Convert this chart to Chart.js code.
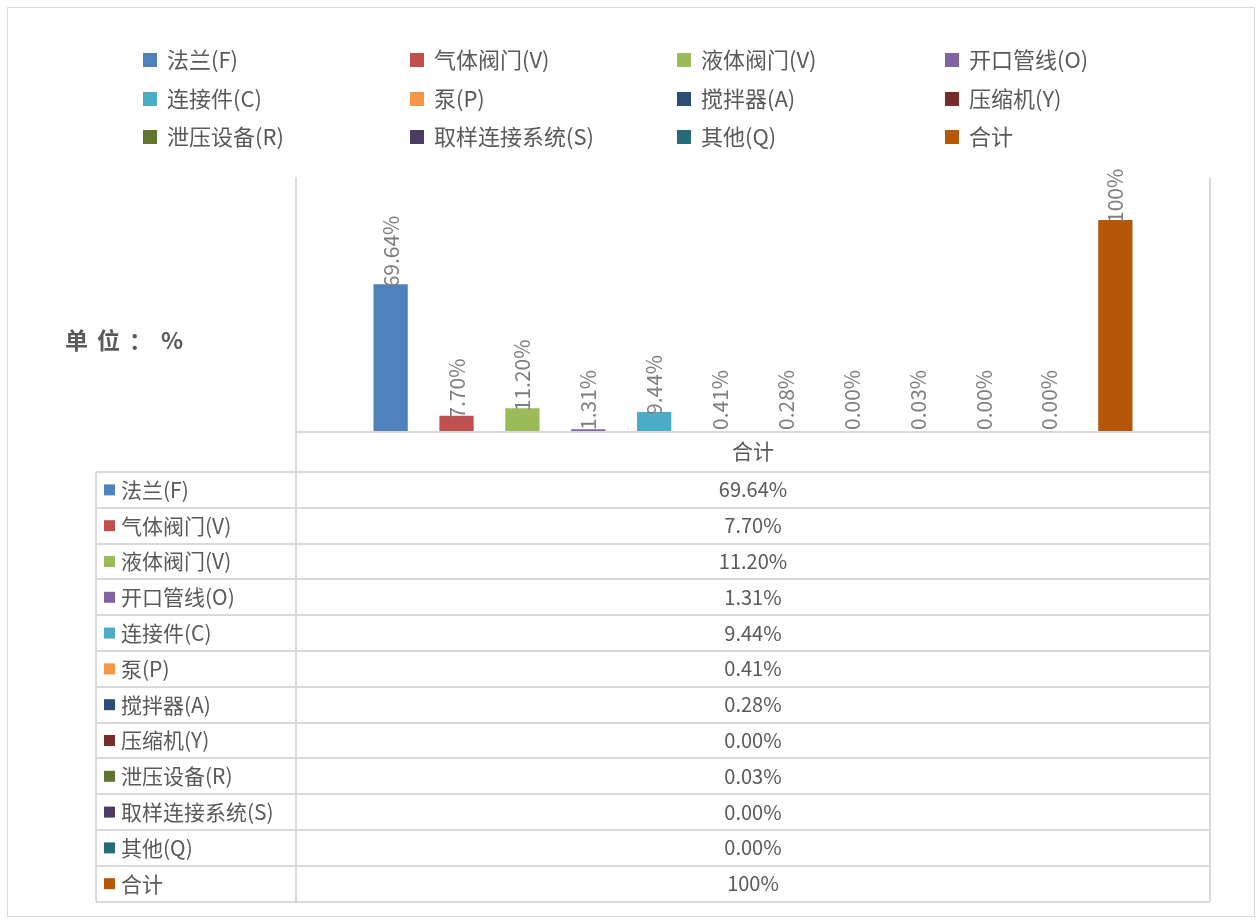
<!DOCTYPE html>
<html>
<head>
<meta charset="utf-8">
<script src="https://cdn.jsdelivr.net/npm/chart.js@4.4.1/dist/chart.umd.min.js"></script>
<style>
  html, body { margin: 0; padding: 0; background: #ffffff; }
  #wrap { position: relative; width: 1258px; height: 921px; }
  canvas { display: block; }
</style>
</head>
<body>
<div id="wrap"><canvas id="c" width="1258" height="921"></canvas></div>
<script>
// ---- data ----
const categories = ['合计'];
const seriesNames = ['法兰(F)', '气体阀门(V)', '液体阀门(V)', '开口管线(O)', '连接件(C)', '泵(P)', '搅拌器(A)', '压缩机(Y)', '泄压设备(R)', '取样连接系统(S)', '其他(Q)', '合计'];
const seriesValues = [69.64, 7.70, 11.20, 1.31, 9.44, 0.41, 0.28, 0.00, 0.03, 0.00, 0.00, 100];
const valueLabels = ['69.64%', '7.70%', '11.20%', '1.31%', '9.44%', '0.41%', '0.28%', '0.00%', '0.03%', '0.00%', '0.00%', '100%'];
const seriesColors = ['#4F81BD', '#C0504D', '#9BBB59', '#8064A2', '#4BACC6', '#F79646', '#2C4D75', '#772C2A', '#5F7530', '#4D3B62', '#276A7C', '#B65708'];
const axisTitle = '单位：%';

const FONT = '"Noto Sans CJK SC", "Noto Sans", sans-serif';
const TEXT = '#595959';
const LINE = '#d9d9d9';

const datasets = seriesNames.map((name, i) => ({
  label: name,
  data: [seriesValues[i]],
  backgroundColor: seriesColors[i],
  borderWidth: 0,
  categoryPercentage: 0.865,
  barPercentage: 0.52
}));

const extras = {
  id: 'extras',
  afterDraw(chart) {
    const ctx = chart.ctx;
    const ca = chart.chartArea;
    const base = Math.round(ca.bottom);
    ctx.save();
    // outer frame
    ctx.strokeStyle = LINE; ctx.lineWidth = 1;
    ctx.strokeRect(7.5, 7.5, 1247, 909);

    // data labels
    chart.data.datasets.forEach((ds, i) => {
      const meta = chart.getDatasetMeta(i);
      meta.data.forEach((bar) => {
        ctx.save();
        ctx.translate(bar.x, Math.min(bar.y + 3, base - 2));
        ctx.rotate(-Math.PI / 2);
        ctx.font = '21px ' + FONT;
        ctx.fillStyle = '#7f7f7f';
        ctx.textAlign = 'left';
        ctx.textBaseline = 'middle';
        ctx.fillText(valueLabels[i], 0, 0);
        ctx.restore();
      });
    });

    // legend (4 columns x 3 rows)
    const colX = [143, 410, 677, 945];
    const rowY = [60, 99, 137];
    ctx.font = '22px ' + FONT;
    ctx.textBaseline = 'middle';
    ctx.textAlign = 'left';
    seriesNames.forEach((name, i) => {
      const x = colX[i % 4], y = rowY[Math.floor(i / 4)];
      ctx.fillStyle = seriesColors[i];
      ctx.fillRect(x, y - 7, 14, 14);
      ctx.fillStyle = TEXT;
      ctx.fillText(name, x + 24, y);
    });

    // axis title
    ctx.font = 'bold 23px ' + FONT;
    ctx.fillStyle = TEXT;
    ctx.letterSpacing = '9px';
    ctx.fillText(axisTitle, 65, 340);
    ctx.letterSpacing = '0px';

    // table grid
    const left = 96, mid = Math.round(ca.left), right = Math.round(ca.right);
    const tTop = 472, rowH = 35.8;
    const n = seriesNames.length;
    const tBot = tTop + rowH * n;
    ctx.strokeStyle = LINE; ctx.lineWidth = 2;
    ctx.beginPath();
    ctx.moveTo(mid, ca.top); ctx.lineTo(mid, tBot);
    ctx.moveTo(right, ca.top); ctx.lineTo(right, tBot);
    ctx.moveTo(mid, base); ctx.lineTo(right, base);
    ctx.moveTo(left, tTop); ctx.lineTo(left, tBot);
    for (let r = 0; r <= n; r++) {
      const y = Math.round(tTop + r * rowH);
      ctx.moveTo(left, y); ctx.lineTo(right, y);
    }
    ctx.stroke();

    // table contents
    ctx.textBaseline = 'middle';
    const cx = (ca.left + ca.right) / 2;
    for (let r = 0; r < n; r++) {
      const yc = tTop + r * rowH + rowH / 2;
      ctx.fillStyle = seriesColors[r];
      ctx.fillRect(104, yc - 5.5, 11, 11);
      ctx.fillStyle = TEXT;
      ctx.textAlign = 'left';
      ctx.font = '21px ' + FONT;
      ctx.fillText(seriesNames[r], 121, yc);
      ctx.textAlign = 'center';
      ctx.font = '20px ' + FONT;
      ctx.fillText(valueLabels[r], cx, yc);
    }
    ctx.restore();
  }
};

new Chart(document.getElementById('c'), {
  type: 'bar',
  data: { labels: categories, datasets },
  options: {
    responsive: false,
    animation: false,
    devicePixelRatio: 1,
    layout: { padding: { left: 296, right: 48, top: 177.6, bottom: 449 } },
    plugins: { legend: { display: false }, tooltip: { enabled: false }, title: { display: false } },
    scales: {
      x: {
        display: true,
        grid: { display: false },
        border: { display: true, color: LINE, width: 2 },
        ticks: { color: TEXT, font: { family: FONT, size: 21 }, padding: -2 },
        afterFit: (s) => { s.height = 40; }
      },
      y: {
        display: false,
        min: 0,
        max: 120
      }
    }
  },
  plugins: [extras]
});
</script>
</body>
</html>
